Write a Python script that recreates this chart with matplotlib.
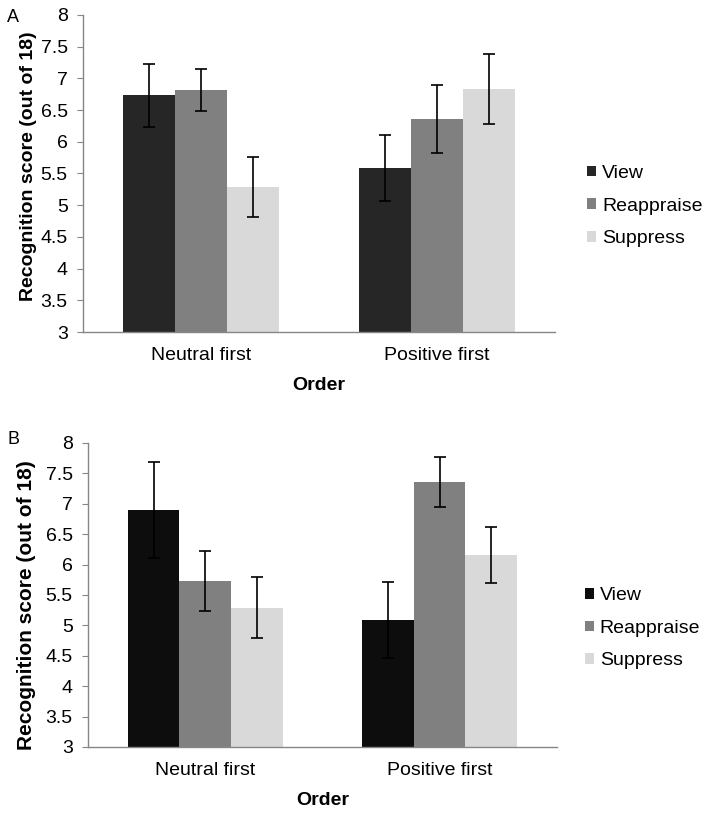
import matplotlib.pyplot as plt
import numpy as np

plt.rcParams['font.family'] = ['Liberation Sans', 'DejaVu Sans']

# -----------------------------
# DATA
# -----------------------------
orders = ["Neutral first", "Positive first"]
conditions = ["View", "Reappraise", "Suppress"]

a_means = {"View": [6.73, 5.59], "Reappraise": [6.82, 6.36], "Suppress": [5.29, 6.83]}
a_errs = {"View": [0.49, 0.52], "Reappraise": [0.33, 0.53], "Suppress": [0.47, 0.55]}

b_means = {"View": [6.90, 5.09], "Reappraise": [5.73, 7.36], "Suppress": [5.29, 6.16]}
b_errs = {"View": [0.79, 0.62], "Reappraise": [0.49, 0.41], "Suppress": [0.50, 0.46]}

yticks = [3, 3.5, 4, 4.5, 5, 5.5, 6, 6.5, 7, 7.5, 8]

a_colors = ["#262626", "#808080", "#d9d9d9"]
b_colors = ["#0d0d0d", "#808080", "#d9d9d9"]

# -----------------------------
# PLOT
# -----------------------------
fig = plt.figure(figsize=(7.05, 8.13), dpi=100)
ax_a = fig.add_axes([0.1177, 0.5916, 0.670, 0.390])
ax_b = fig.add_axes([0.1248, 0.0812, 0.665, 0.374])

width = 0.22
x = np.arange(len(orders))
fs = 14


def draw_panel(ax, means, errs, colors, legend_x, legend_y, ylab_xy, ylab_fs):
    for i, cond in enumerate(conditions):
        ax.bar(x + (i - 1) * width, np.array(means[cond]) - 3, width, bottom=3,
               color=colors[i], label=cond, zorder=2)
        ax.errorbar(x + (i - 1) * width, means[cond], yerr=errs[cond], fmt='none',
                    ecolor='black', elinewidth=1.2, capsize=4, capthick=1.2, zorder=3)
    ax.set_xlim(-0.5, 1.5)
    ax.set_ylim(3, 8)
    ax.set_yticks(yticks)
    ax.set_yticklabels([f"{t:g}" for t in yticks], fontsize=fs)
    ax.set_xticks(x)
    ax.set_xticklabels(orders, fontsize=fs)
    ax.tick_params(axis='x', length=0, pad=11)
    ax.tick_params(axis='y', length=4, color='#868686', pad=7)
    for s in ['top', 'right']:
        ax.spines[s].set_visible(False)
    for s in ['left', 'bottom']:
        ax.spines[s].set_color('#868686')
        ax.spines[s].set_linewidth(1.0)
    ax.set_ylabel("Recognition score (out of 18)", fontsize=ylab_fs, fontweight='bold')
    ax.yaxis.set_label_coords(*ylab_xy)
    ax.set_xlabel("Order", fontsize=fs, fontweight='bold', labelpad=9)
    ax.legend(loc='center left', bbox_to_anchor=(legend_x, legend_y), frameon=False,
              fontsize=fs, handlelength=0.46, handleheight=0.46, handletextpad=0.3,
              labelspacing=0.8, borderpad=0, borderaxespad=0)


draw_panel(ax_a, a_means, a_errs, a_colors, 1.068, 0.397, (-0.098, 0.524), 14)
draw_panel(ax_b, b_means, b_errs, b_colors, 1.06, 0.39, (-0.11, 0.467), 15)

fig.text(0.010, 0.979, "A", fontsize=13, va='center', ha='left')
fig.text(0.010, 0.459, "B", fontsize=13, va='center', ha='left')

fig.savefig("out.png", dpi=100)
